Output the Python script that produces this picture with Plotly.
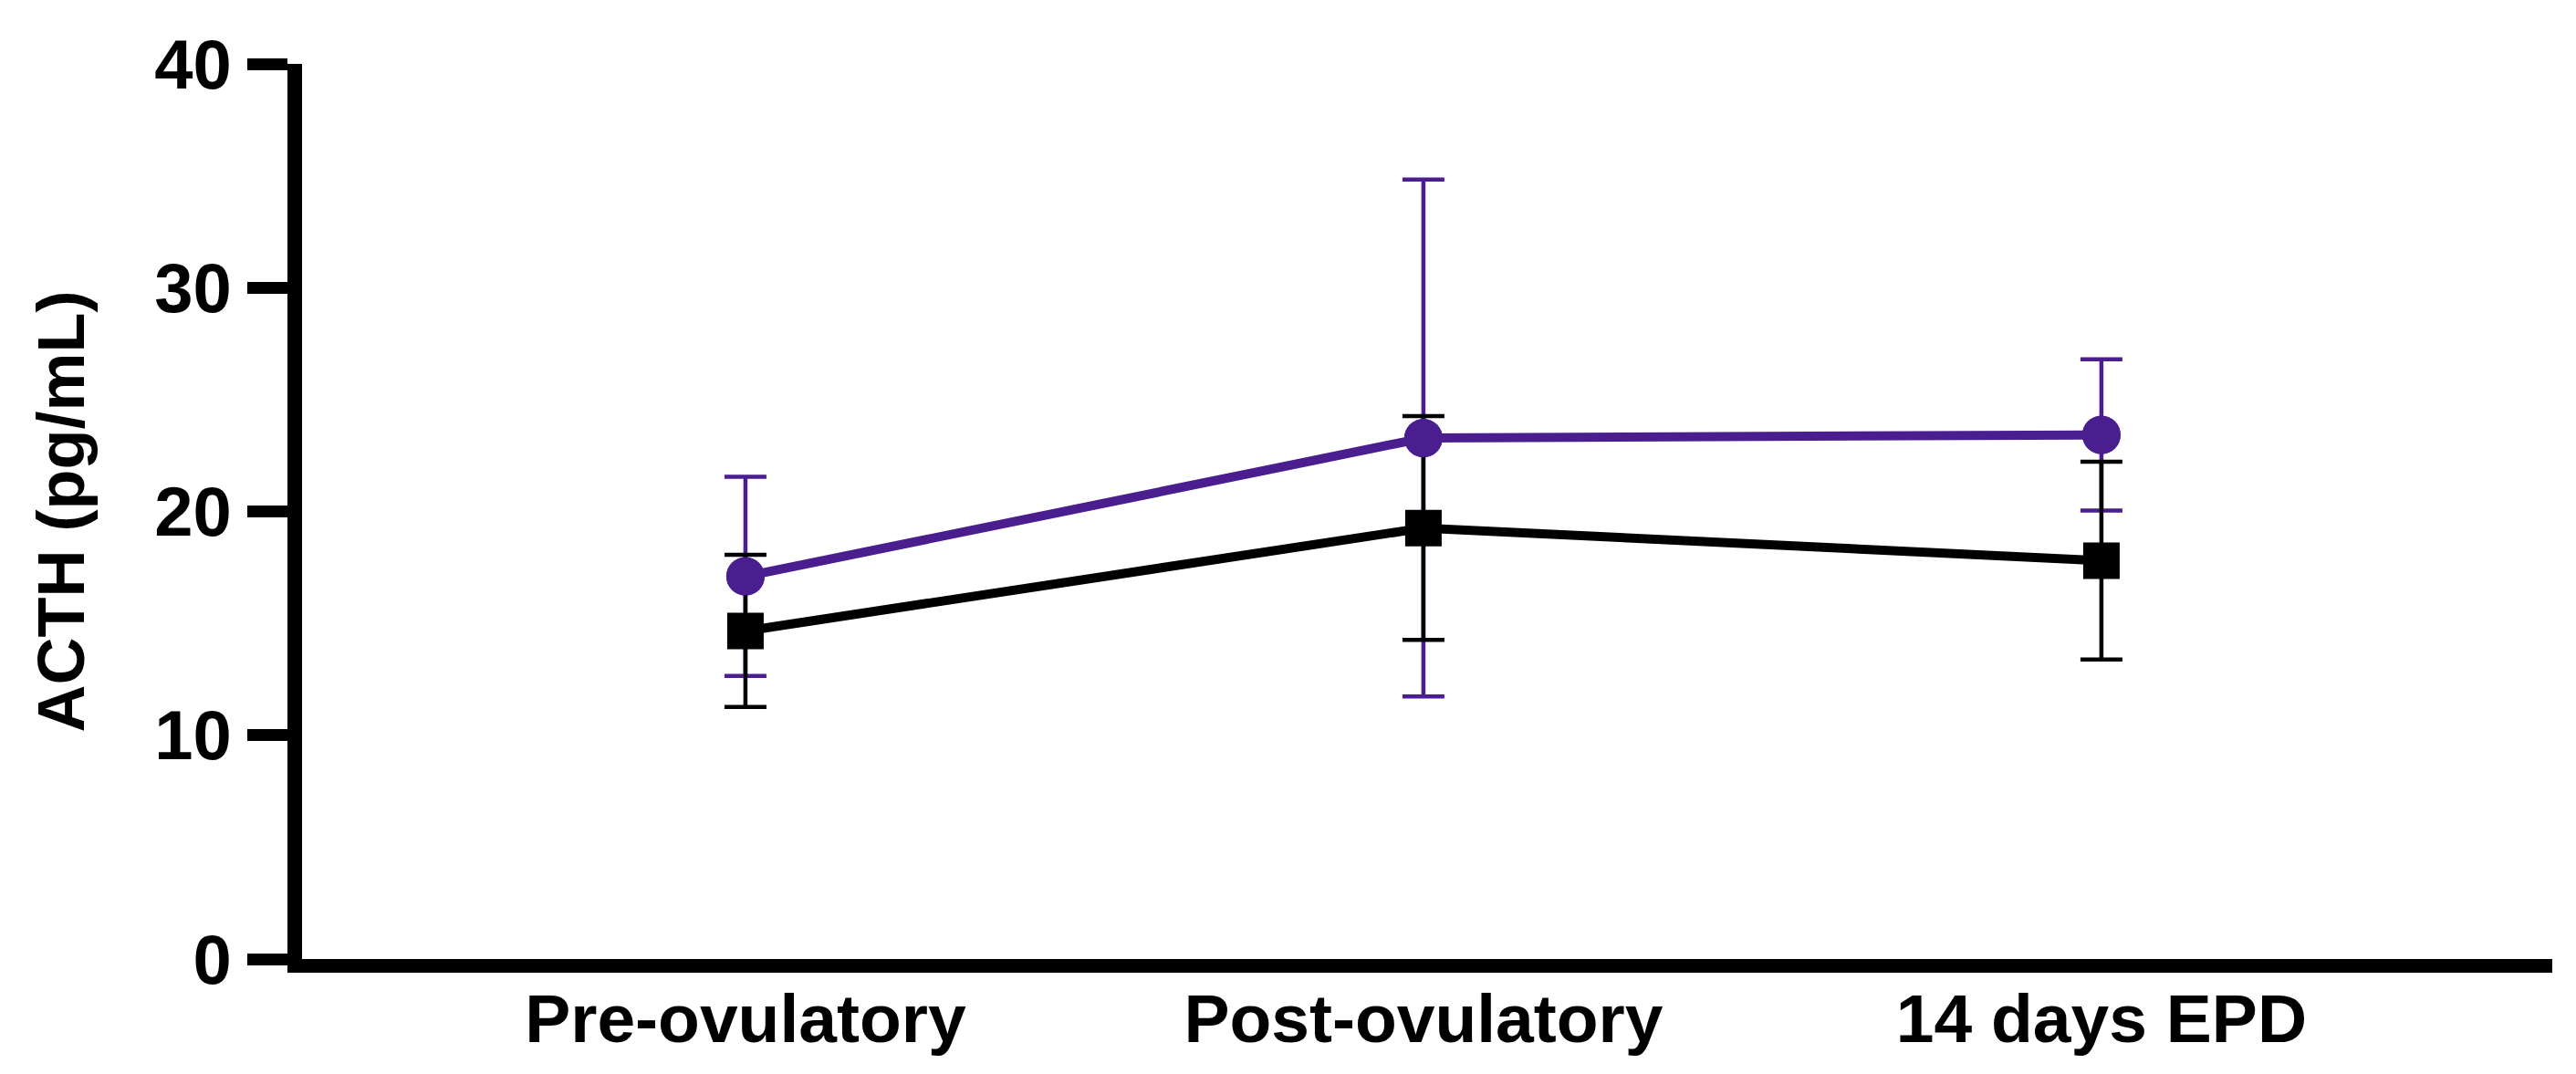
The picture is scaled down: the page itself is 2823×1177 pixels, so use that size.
import plotly.graph_objects as go

categories = ["Pre-ovulatory", "Post-ovulatory", "14 days EPD"]
purple_mean = [17.1, 23.28, 23.42]
purple_err = [4.45, 11.55, 3.38]
black_mean = [14.66, 19.26, 17.80]
black_err = [3.4, 5.0, 4.42]
y_ticks = [0, 10, 20, 30, 40]

PURPLE = "#4B1E90"
BLACK = "#000000"
FONT = "Liberation Sans"

x_idx = list(range(len(categories)))

fig = go.Figure()

fig.add_trace(go.Scatter(
    x=x_idx, y=purple_mean, mode="lines+markers",
    line=dict(color=PURPLE, width=10),
    marker=dict(symbol="circle", size=42, color=PURPLE),
    error_y=dict(type="data", array=purple_err, visible=True,
                 color=PURPLE, thickness=4.5, width=23),
    showlegend=False, cliponaxis=False,
))
fig.add_trace(go.Scatter(
    x=x_idx, y=black_mean, mode="lines+markers",
    line=dict(color=BLACK, width=10),
    marker=dict(symbol="square", size=40, color=BLACK),
    error_y=dict(type="data", array=black_err, visible=True,
                 color=BLACK, thickness=4.5, width=23),
    showlegend=False, cliponaxis=False,
))
# purple markers redrawn on top of the black error bars
fig.add_trace(go.Scatter(
    x=x_idx, y=purple_mean, mode="markers",
    marker=dict(symbol="circle", size=42, color=PURPLE),
    showlegend=False, cliponaxis=False, hoverinfo="skip",
))

fig.update_layout(
    width=2823, height=1177,
    margin=dict(l=323, r=34, t=62, b=134, autoexpand=False),
    paper_bgcolor="white", plot_bgcolor="white",
    font=dict(family=FONT, color="black"),
)

fig.update_xaxes(
    tickmode="array", tickvals=x_idx, ticktext=categories,
    range=[-0.654, 2.665],
    showline=True, linecolor="black", linewidth=15,
    ticks="", showgrid=False, zeroline=False,
    tickfont=dict(family=FONT, size=75, weight="bold", color="black"),
    ticklabelstandoff=-14,
)
fig.update_yaxes(
    tickmode="array", tickvals=y_ticks, ticktext=[str(v) for v in y_ticks],
    range=[0, 40],
    showline=True, linecolor="black", linewidth=16,
    ticks="outside", ticklen=44, tickwidth=13, tickcolor="black",
    showgrid=False, zeroline=False,
    tickfont=dict(family=FONT, size=76, weight="bold", color="black"),
    ticklabelstandoff=2,
    title=dict(text="ACTH (pg/mL)", standoff=60,
               font=dict(family=FONT, size=72, weight="bold", color="black")),
)

fig.write_html("out.html")
